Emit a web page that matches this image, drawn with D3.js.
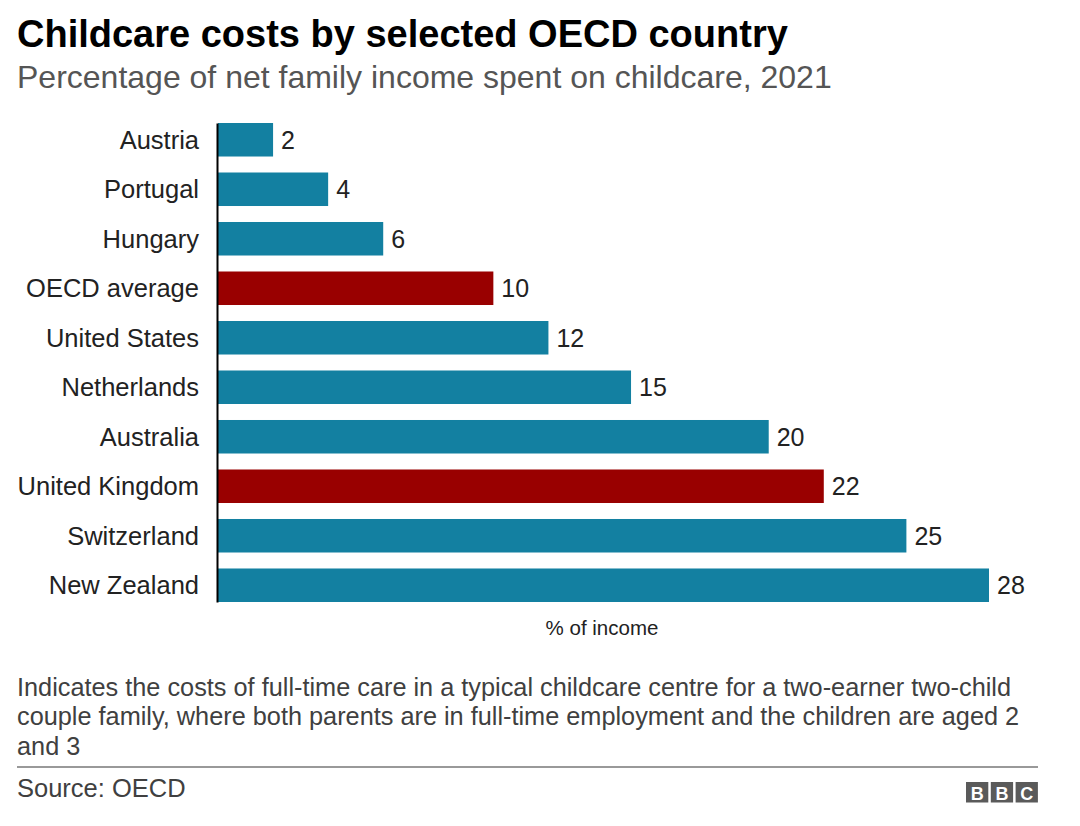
<!DOCTYPE html>
<html><head><meta charset="utf-8">
<script src="https://cdn.jsdelivr.net/npm/d3@7"></script>
<style>body{margin:0;background:#fff;} text{font-family:"Liberation Sans",Arial,Helvetica,sans-serif;}</style>
</head><body>
<svg id="chart" width="1080" height="826"></svg>
<script>
const countries = ["Austria","Portugal","Hungary","OECD average","United States","Netherlands","Australia","United Kingdom","Switzerland","New Zealand"];
const values = [2,4,6,10,12,15,20,22,25,28];
const highlighted = ["OECD average","United Kingdom"];
const footnoteLines = [
  "Indicates the costs of full-time care in a typical childcare centre for a two-earner two-child",
  "couple family, where both parents are in full-time employment and the children are aged 2",
  "and 3"
];

const svg = d3.select("#chart");
const data = countries.map((c,i)=>({c, v: values[i]}));

svg.append("text").attr("x",17).attr("y",47).attr("font-size",38).attr("font-weight","bold").attr("fill","#000")
  .text("Childcare costs by selected OECD country");
svg.append("text").attr("x",17).attr("y",88).attr("font-size",32).attr("fill","#555")
  .text("Percentage of net family income spent on childcare, 2021");

const x = d3.scaleLinear().domain([0,28]).range([218,989]);
const y = d3.scaleBand().domain(countries).range([123,602]).paddingInner(0.323).paddingOuter(0);

svg.append("g").selectAll("rect").data(data).join("rect")
  .attr("x", x(0)).attr("y", d=>y(d.c)).attr("width", d=>x(d.v)-x(0)).attr("height", y.bandwidth())
  .attr("fill", d=>highlighted.includes(d.c) ? "#990000" : "#1380A1");

svg.append("g").selectAll("text").data(data).join("text")
  .attr("x", d=>x(d.v)+8).attr("y", d=>y(d.c)+y.bandwidth()/2).attr("dy","0.36em")
  .attr("font-size",25).attr("fill","#222").text(d=>d.v);

const yAxis = d3.axisLeft(y).tickSize(0).tickPadding(18);
const ga = svg.append("g").attr("transform","translate(217,0)").call(yAxis);
ga.select(".domain").attr("stroke","#000").attr("stroke-width",2);
ga.selectAll("text").attr("font-size",25.5).attr("fill","#222").attr("dy","0.36em").style("font-family","'Liberation Sans',Arial,sans-serif");

svg.append("text").attr("x",602).attr("y",635).attr("text-anchor","middle").attr("font-size",20.5).attr("fill","#222").text("% of income");

svg.append("g").selectAll("text").data(footnoteLines).join("text")
  .attr("x",17).attr("y",(d,i)=>696+i*29.3).attr("font-size",25.3).attr("fill","#404040").text(d=>d);

svg.append("line").attr("x1",17).attr("x2",1038).attr("y1",767).attr("y2",767).attr("stroke","#999").attr("stroke-width",2);
svg.append("text").attr("x",17).attr("y",797).attr("font-size",25.5).attr("fill","#404040").text("Source: OECD");

const logo = svg.append("g").attr("transform","translate(966,782)");
["B","B","C"].forEach((l,i)=>{
  logo.append("rect").attr("x",i*24.8).attr("y",0).attr("width",22.3).attr("height",20.5).attr("fill","#5a5a5a");
  logo.append("text").attr("x",i*24.8+11.15).attr("y",17.5).attr("text-anchor","middle").attr("font-size",18).attr("font-weight","bold").attr("fill","#fff").text(l);
});
</script>
</body></html>
